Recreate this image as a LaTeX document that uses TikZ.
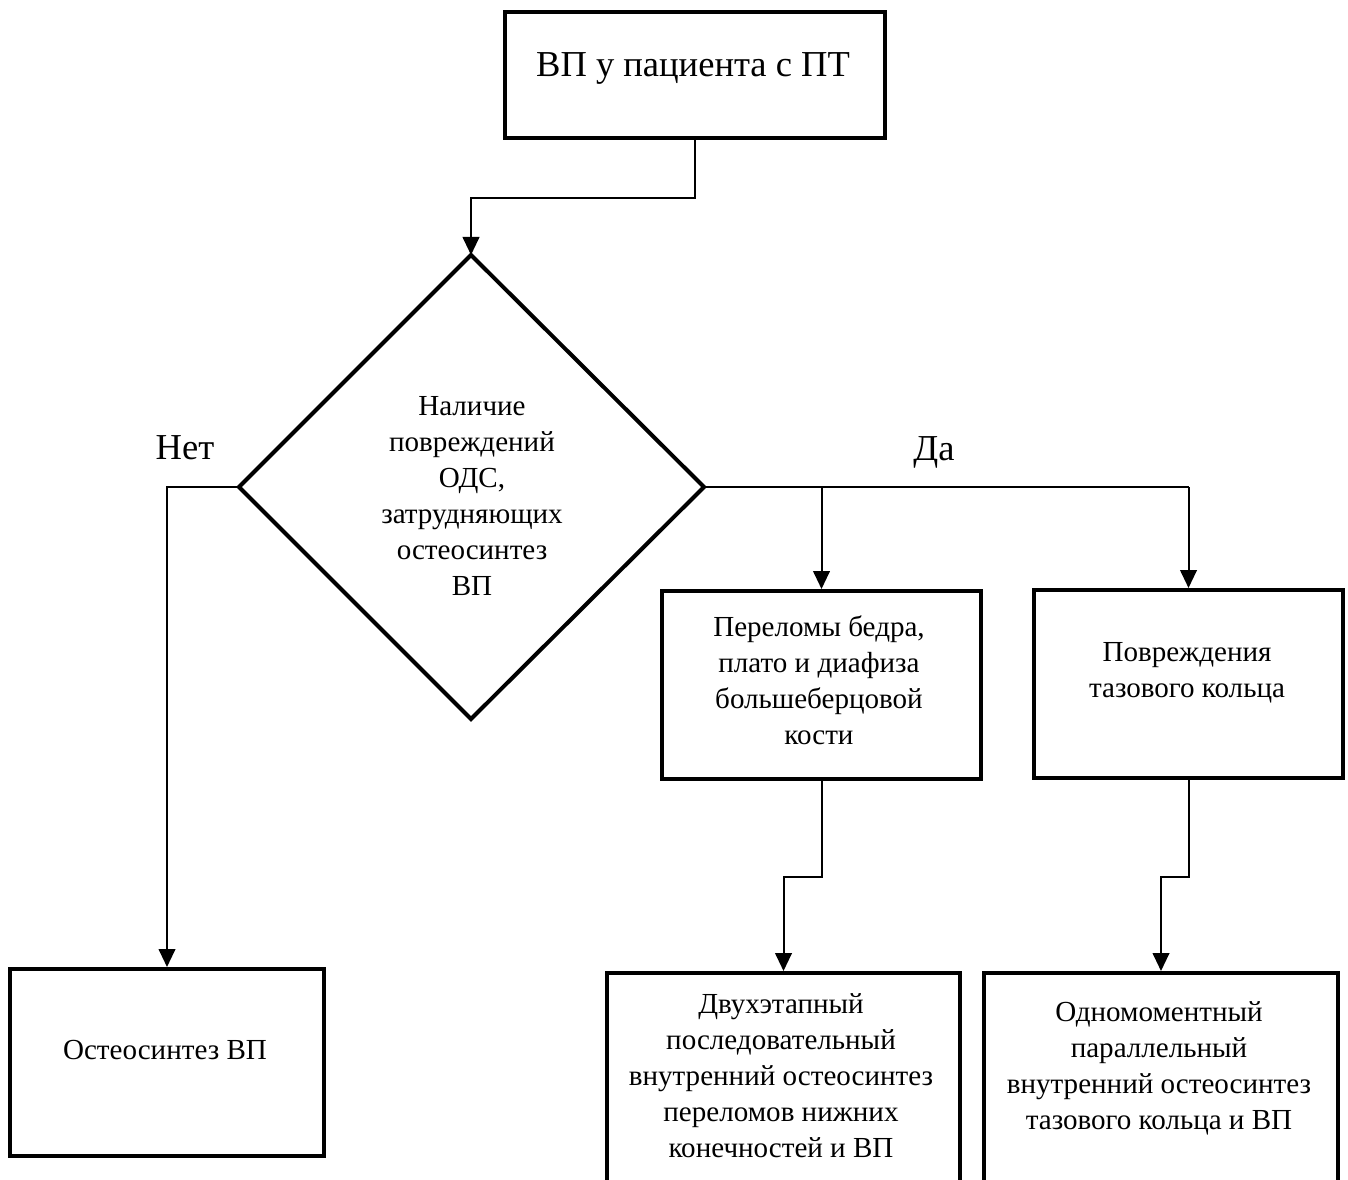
\documentclass[tikz,border=0pt]{standalone}
\usepackage{fontspec}
\setmainfont{Liberation Serif}
\usetikzlibrary{arrows.meta}
\begin{document}
\begin{tikzpicture}[x=0.75pt,y=-0.75pt,
  box/.style={draw,line width=3pt,inner sep=0pt,anchor=north west},
  conn/.style={line width=1.5pt},
  arr/.style={conn,-{Triangle[length=13.5pt,width=12.5pt]}},
  txt/.style={align=center,inner sep=0pt,font=\fontsize{21.8}{27}\selectfont},
  big/.style={align=center,inner sep=0pt,font=\fontsize{27.4}{32}\selectfont}]
\clip (0,0) rectangle (1348,1180);
% boxes
\node[box,minimum width=285pt,minimum height=94.5pt] (b0) at (503,10) {};
\node[box,minimum width=235.5pt,minimum height=140.25pt] (bL) at (8,967) {};
\node[box,minimum width=239.25pt,minimum height=141pt] (b2) at (660,589) {};
\node[box,minimum width=231.75pt,minimum height=141pt] (b3) at (1032,588) {};
\node[box,minimum width=264.75pt,minimum height=168pt] (b4) at (605,971) {};
\node[box,minimum width=265.5pt,minimum height=168pt] (b5) at (982,971) {};
% diamond
\coordinate (dT) at (471,255);
\coordinate (dR) at (704,487);
\coordinate (dB) at (471,719);
\coordinate (dL) at (239,487);
\draw[line width=3pt,line join=miter] (dT) -- (dR) -- (dB) -- (dL) -- cycle;
% texts
\node[big] (t0) at (693,68) {ВП у пациента с ПТ};
\node[txt] (tD) at (472,496) {Наличие\\повреждений\\ОДС,\\затрудняющих\\остеосинтез\\ВП};
\node[txt] (tL) at (165,1050) {Остеосинтез ВП};
\node[txt] (t2) at (819,680) {Переломы бедра,\\плато и диафиза\\большеберцовой\\кости};
\node[txt] (t3) at (1187,673) {Повреждения\\тазового кольца};
\node[txt] (t4) at (781,1076) {Двухэтапный\\последовательный\\внутренний остеосинтез\\переломов нижних\\конечностей и ВП};
\node[txt] (t5) at (1159,1068) {Одномоментный\\параллельный\\внутренний остеосинтез\\тазового кольца и ВП};
\node[big] (no) at (185,448) {Нет};
\node[big] (yes) at (934,452) {Да};
% connectors
\draw[arr] (b0.south) -- ++(0,58) -| (dT);
\draw[arr] (dL) -| (bL.north);
\draw[conn] (dR) -- (b3.north |- dR);
\draw[arr] (b2.north |- dR) -- (b2.north);
\draw[arr] (b3.north |- dR) -- (b3.north);
\draw[arr] (b2.south) -- ++(0,96) -| (b4.north);
\draw[arr] (b3.south) -- ++(0,97) -| (b5.north);
\end{tikzpicture}
\end{document}
